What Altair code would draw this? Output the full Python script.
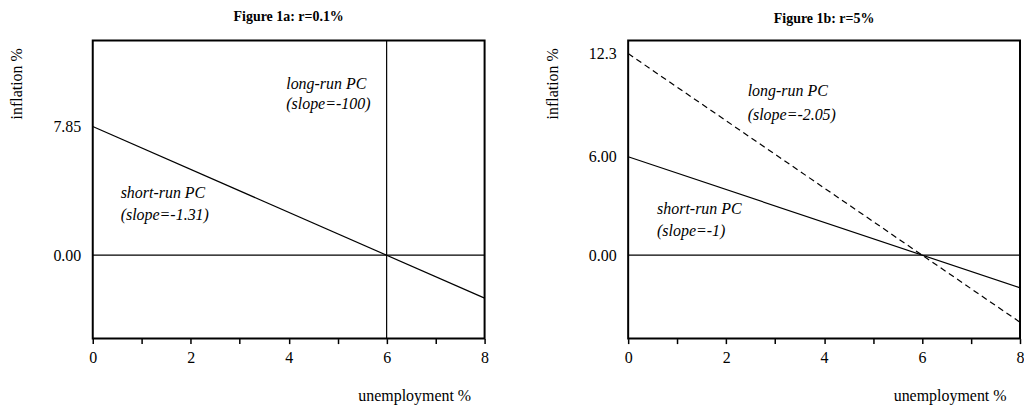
import altair as alt
import pandas as pd

FONT = "Liberation Serif"

# shared axis data
x_ends = [0, 8]
x_ticks = [0, 1, 2, 3, 4, 5, 6, 7, 8]
y_domain = [-5.1, 13.1]

# Figure 1a: r=0.1%
a_title = "Figure 1a: r=0.1%"
a_short = [7.85, -2.63]
a_long_x = [6, 6]
a_long_y = [-5.1, 13.1]
a_zero = [0, 0]
a_yticks = [0, 7.85]
a_labels = ["long-run PC", "(slope=-100)", "short-run PC", "(slope=-1.31)"]
a_label_x = [3.95, 3.95, 0.57, 0.57]
a_label_y = [10.16, 8.94, 3.49, 2.17]

# Figure 1b: r=5%
b_title = "Figure 1b: r=5%"
b_short = [6.0, -2.0]
b_long = [12.3, -4.1]
b_zero = [0, 0]
b_yticks = [0, 6.0, 12.3]
b_labels = ["long-run PC", "(slope=-2.05)", "short-run PC", "(slope=-1)"]
b_label_x = [2.44, 2.44, 0.59, 0.59]
b_label_y = [9.70, 8.27, 2.48, 1.16]

W, H = 393, 299

xs = alt.Scale(domain=x_ends, nice=False, zero=False)
ys = alt.Scale(domain=y_domain, nice=False, zero=False)


def x_axis():
    return alt.Axis(
        values=x_ticks,
        labelExpr="datum.value % 2 === 0 ? datum.label : ''",
        format="d",
        title="unemployment %",
        grid=False, domain=False,
        tickSize=5, tickWidth=1.5, tickColor="black",
        labelFont=FONT, labelFontSize=16, labelColor="black",
        labelPadding=6, labelFlush=False, labelOverlap=False,
        titleFont=FONT, titleFontSize=16, titleFontWeight="normal", titleColor="black",
        titleX=379, titleY=62, titleAlign="right", titleBaseline="alphabetic",
    )


def y_axis(vals):
    return alt.Axis(
        values=vals,
        labelExpr="datum.value === 0 ? '0.00' : format(datum.value, '.3r')",
        title="inflation %",
        grid=False, domain=False, ticks=False, tickSize=0,
        labelFont=FONT, labelFontSize=16, labelColor="black", labelPadding=12,
        labelFlush=False, labelOverlap=False,
        titleFont=FONT, titleFontSize=16, titleFontWeight="normal", titleColor="black",
        titleX=-76, titleY=43, titleAngle=270, titleAlign="center", titleBaseline="middle",
    )


def line_layer(xv, yv, yvals, dash=None):
    df = pd.DataFrame({"x": xv, "y": yv})
    kw = dict(color="black", strokeWidth=1.2)
    if dash:
        kw["strokeDash"] = dash
    return alt.Chart(df).mark_line(**kw).encode(
        x=alt.X("x:Q", scale=xs, axis=x_axis()),
        y=alt.Y("y:Q", scale=ys, axis=y_axis(yvals)),
    )


def text_layer(labels, lx, ly, yvals):
    df = pd.DataFrame({"x": lx, "y": ly, "t": labels})
    return alt.Chart(df).mark_text(
        align="left", baseline="alphabetic", font=FONT, fontStyle="italic",
        fontSize=16, color="black",
    ).encode(
        x=alt.X("x:Q", scale=xs, axis=x_axis()),
        y=alt.Y("y:Q", scale=ys, axis=y_axis(yvals)),
        text="t:N",
    )


def make_title(t):
    return alt.Title(t, font=FONT, fontSize=14, fontWeight="bold", color="black",
                     anchor="middle", offset=3.5, baseline="alphabetic")


left = alt.layer(
    line_layer(x_ends, a_zero, a_yticks),
    line_layer(x_ends, a_short, a_yticks),
    line_layer(a_long_x, a_long_y, a_yticks),
    text_layer(a_labels, a_label_x, a_label_y, a_yticks),
).properties(width=W, height=H, title=make_title(a_title))

right = alt.layer(
    line_layer(x_ends, b_zero, b_yticks),
    line_layer(x_ends, b_short, b_yticks),
    line_layer(x_ends, b_long, b_yticks, dash=[6, 4]),
    text_layer(b_labels, b_label_x, b_label_y, b_yticks),
).properties(width=W, height=H, title=make_title(b_title))

chart = alt.hconcat(left, right, spacing=144, bounds="flush").resolve_scale(
    x="independent", y="independent"
).properties(
    padding={"left": 0, "top": 0, "right": -1, "bottom": 0},
    background="white",
).configure_view(stroke="black", strokeWidth=2)

chart.save("out.html", embed_options={"renderer": "svg", "actions": False})
